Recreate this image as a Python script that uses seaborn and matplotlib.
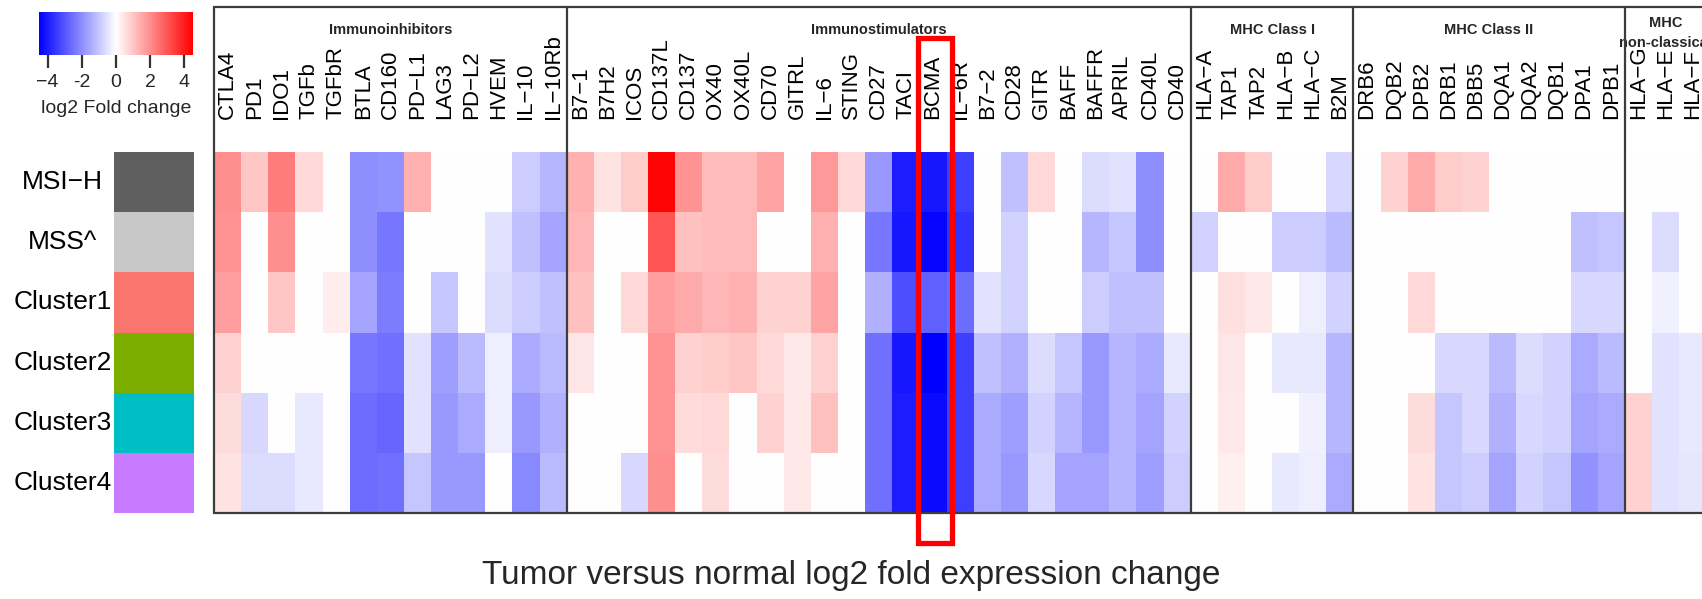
import numpy as np
import matplotlib
matplotlib.use("Agg")
import matplotlib.pyplot as plt
import seaborn as sns
from matplotlib.colors import LinearSegmentedColormap, ListedColormap
from matplotlib.patches import Rectangle

# ---------------- data ----------------
row_names = ["MSI\u2212H", "MSS^", "Cluster1", "Cluster2", "Cluster3", "Cluster4"]
row_colors = ["#5F5F5F", "#C8C8C8", "#F8766D", "#7CAE00", "#00BFC4", "#C77CFF"]

group_titles = ["Immunoinhibitors", "Immunostimulators", "MHC Class I",
                "MHC Class II", "MHC\nnon-classical"]

inhib_genes = ["CTLA4", "PD1", "IDO1", "TGFb", "TGFbR", "BTLA", "CD160", "PD\u2212L1",
               "LAG3", "PD\u2212L2", "HVEM", "IL\u221210", "IL\u221210Rb"]
stim_genes = ["B7\u22121", "B7H2", "ICOS", "CD137L", "CD137", "OX40", "OX40L", "CD70",
              "GITRL", "IL\u22126", "STING", "CD27", "TACI", "BCMA", "IL\u22126R", "B7\u22122",
              "CD28", "GITR", "BAFF", "BAFFR", "APRIL", "CD40L", "CD40"]
mhc1_genes = ["HLA\u2212A", "TAP1", "TAP2", "HLA\u2212B", "HLA\u2212C", "B2M"]
mhc2_genes = ["DRB6", "DQB2", "DPB2", "DRB1", "DBB5", "DQA1", "DQA2", "DQB1", "DPA1", "DPB1"]
nonclass_genes = ["HLA\u2212G", "HLA\u2212E", "HLA\u2212F"]

inhib_vals = [
    [2.0, 1.0, 2.3, 0.7, 0.0, -2.0, -1.9, 1.4, 0.0, 0.0, 0.0, -0.9, -1.3],
    [1.9, 0.0, 2.0, 0.0, 0.0, -2.0, -2.4, 0.0, 0.0, 0.0, -0.5, -1.1, -1.6],
    [1.7, 0.0, 1.0, 0.0, 0.35, -1.6, -2.3, 0.0, -1.0, 0.0, -0.6, -0.9, -1.1],
    [0.8, 0.0, 0.0, 0.0, 0.0, -2.4, -2.5, -0.5, -1.7, -1.2, -0.3, -1.5, -1.2],
    [0.6, -0.7, 0.0, -0.4, 0.0, -2.6, -2.7, -0.5, -1.8, -1.5, -0.3, -1.8, -1.4],
    [0.5, -0.6, -0.6, -0.4, 0.0, -2.6, -2.5, -1.0, -1.8, -1.8, 0.0, -2.1, -1.2],
]
stim_vals = [
    [1.4, 0.5, 0.9, 4.4, 1.9, 1.2, 1.2, 1.6, 0.0, 1.8, 0.7, -1.8, -4.0, -4.1, -3.4, 0.0, -1.1, 0.7, 0.0, -0.6, -0.5, -2.0, 0.0],
    [1.3, 0.0, 0.0, 3.0, 1.1, 1.2, 1.2, 0.0, 0.0, 1.4, 0.0, -2.4, -4.1, -4.4, -3.6, 0.0, -0.8, 0.0, 0.0, -1.3, -1.0, -2.0, 0.0],
    [1.1, 0.0, 0.7, 1.7, 1.5, 1.3, 1.4, 0.8, 0.8, 1.6, 0.0, -1.4, -3.1, -2.8, -2.6, -0.5, -0.8, 0.0, 0.0, -0.9, -1.1, -1.1, 0.0],
    [0.45, 0.0, 0.0, 1.9, 0.8, 0.9, 1.0, 0.7, 0.4, 0.8, 0.0, -2.5, -4.1, -4.5, -3.4, -1.1, -1.4, -0.6, -1.0, -1.8, -1.3, -1.5, -0.4],
    [0.0, 0.0, 0.0, 1.9, 0.6, 0.7, 0.0, 0.8, 0.4, 1.1, 0.0, -2.5, -4.0, -4.3, -3.4, -1.5, -1.7, -0.8, -1.3, -1.8, -1.3, -1.6, -0.8],
    [0.0, 0.0, -0.7, 2.0, 0.0, 0.6, 0.0, 0.0, 0.4, 0.0, 0.0, -2.5, -4.0, -4.3, -3.4, -1.5, -1.8, -0.7, -1.6, -1.6, -1.3, -1.7, -0.9],
]
mhc1_vals = [
    [0.0, 1.5, 0.9, 0.0, 0.0, -0.7],
    [-0.8, 0.0, 0.0, -0.9, -0.9, -1.2],
    [0.0, 0.55, 0.4, 0.0, -0.3, -0.8],
    [0.0, 0.45, 0.0, -0.4, -0.4, -1.3],
    [0.0, 0.4, 0.0, 0.0, -0.25, -1.3],
    [0.0, 0.25, 0.0, -0.4, -0.3, -1.5],
]
mhc2_vals = [
    [0.0, 0.8, 1.5, 0.9, 0.8, 0.0, 0.0, 0.0, 0.0, 0.0],
    [0.0, 0.0, 0.0, 0.0, 0.0, 0.0, 0.0, 0.0, -1.1, -1.0],
    [0.0, 0.0, 0.7, 0.0, 0.0, 0.0, 0.0, 0.0, -0.7, -0.7],
    [0.0, 0.0, 0.0, -0.7, -0.7, -1.2, -0.6, -0.8, -1.5, -1.2],
    [0.0, 0.0, 0.6, -1.0, -0.7, -1.4, -0.7, -0.8, -1.6, -1.5],
    [0.0, 0.0, 0.5, -1.0, -0.9, -1.6, -0.8, -1.0, -1.9, -1.6],
]
nonclass_vals = [
    [0.0, 0.0, 0.0],
    [0.0, -0.6, 0.0],
    [0.0, -0.25, 0.0],
    [0.0, -0.5, -0.4],
    [0.8, -0.5, -0.4],
    [0.8, -0.5, -0.45],
]
highlight_gene = "BCMA"
cbar_ticks = [-4, -2, 0, 2, 4]
cbar_ticklabels = ["\u22124", "-2", "0", "2", "4"]
x_title = "Tumor versus normal log2 fold expression change"
cbar_title = "log2 Fold change"

# ---------------- assemble ----------------
gene_groups = [inhib_genes, stim_genes, mhc1_genes, mhc2_genes, nonclass_genes]
value_groups = [inhib_vals, stim_vals, mhc1_vals, mhc2_vals, nonclass_vals]
genes = sum(gene_groups, [])
values = np.hstack([np.array(v) for v in value_groups])
n_rows, n_cols = values.shape

sns.set_theme(style="white")
plt.rcParams["font.family"] = ["Liberation Sans", "DejaVu Sans"]

W, H = 1702, 599
fig = plt.figure(figsize=(W / 100, H / 100), dpi=100)

def px_axes(x0, y0, x1, y1):
    return fig.add_axes([x0 / W, 1 - y1 / H, (x1 - x0) / W, (y1 - y0) / H])

col_w = 27.13
hm_left, hm_top, hm_bot = 214, 152, 513
ax = px_axes(hm_left, hm_top, hm_left + col_w * n_cols, hm_bot)
cax = px_axes(39, 12, 193, 55)
ax_ann = px_axes(114, hm_top, 194, hm_bot)

cmap = LinearSegmentedColormap.from_list("bwr2", ["#0000FF", "#FFFFFF", "#FF0000"])
sns.heatmap(values, ax=ax, cmap=cmap, vmin=-4.5, vmax=4.5, cbar=True, cbar_ax=cax,
            cbar_kws={"orientation": "horizontal", "ticks": cbar_ticks},
            xticklabels=False, yticklabels=False, linewidths=0)

row_h = (hm_bot - hm_top) / n_rows
y_labels = (119 - hm_top) / row_h
y_frame_top = (7 - hm_top) / row_h

# column labels (gene names), rotated, drawn above the heatmap
for j, g in enumerate(genes):
    ax.text(j + 0.5, y_labels, g, rotation=90, ha="center", va="bottom",
            fontsize=16, color="black", clip_on=False)

frame_kw = dict(color="#3c3c3c", lw=1.6, clip_on=False, zorder=5)

# group frames and titles
bounds = np.cumsum([0] + [len(g) for g in gene_groups])
for b in bounds:
    ax.plot([b, b], [y_frame_top, n_rows], **frame_kw)
ax.plot([0, n_cols], [y_frame_top, y_frame_top], **frame_kw)
ax.plot([0, n_cols], [n_rows, n_rows], **frame_kw)
for i, t in enumerate(group_titles):
    y_px = 33 if "\n" in t else 30
    ax.text((bounds[i] + bounds[i + 1]) / 2, (y_px - hm_top) / row_h, t,
            ha="center", va="center", fontsize=10.5, fontweight="bold",
            linespacing=1.6, clip_on=False)

# highlight box
hi = genes.index(highlight_gene)
ax.add_patch(Rectangle((hi - 0.05, (38 - hm_top) / row_h), 1.25, (543 - 38) / row_h,
                       fill=False, edgecolor="#FF0000", lw=3.8, clip_on=False, zorder=6))

# colorbar
cbar = ax.collections[0].colorbar
cbar.outline.set_visible(False)
cax.tick_params(axis="x", bottom=True, length=9, width=1.6, color="#333333",
                labelsize=14, pad=5)
cax.set_xticklabels(cbar_ticklabels)
cax.set_xlabel(cbar_title, fontsize=14, labelpad=6)

# row annotation
sns.heatmap(np.arange(n_rows).reshape(-1, 1), ax=ax_ann, cmap=ListedColormap(row_colors),
            cbar=False, xticklabels=False, yticklabels=row_names, linewidths=0)
ax_ann.tick_params(axis="y", length=0, pad=37, labelsize=19, colors="black")
for lab in ax_ann.get_yticklabels():
    lab.set_rotation(0)
    lab.set_ha("center")

fig.text(0.5, 1 - 584 / H, x_title, ha="center", va="baseline", fontsize=24)

fig.savefig("out.png", dpi=100)
